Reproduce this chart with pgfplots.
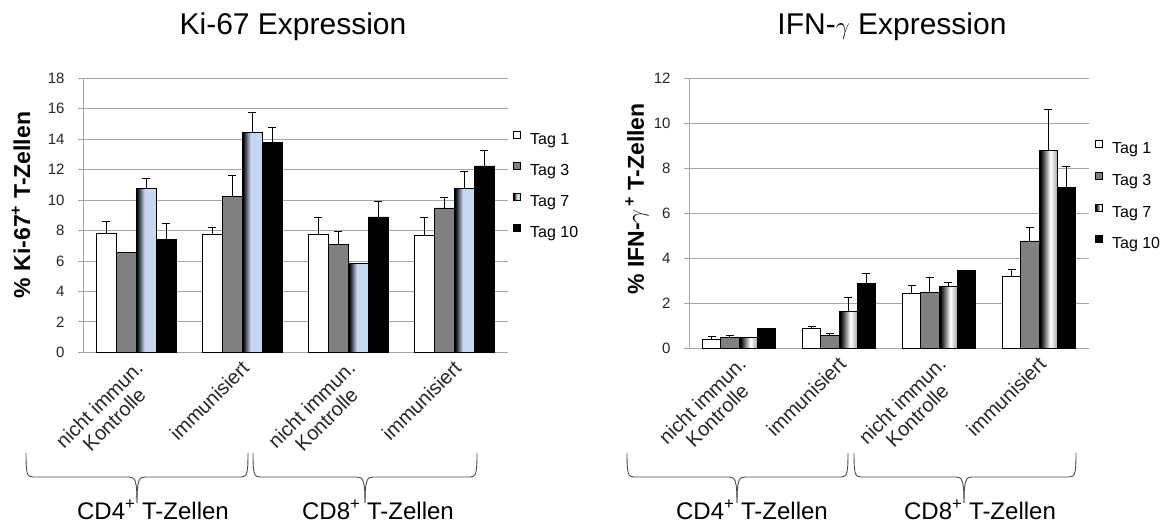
\documentclass[border=0pt]{standalone}
\usepackage{fontspec}
\setmainfont{Liberation Sans}
\usepackage{pgfplots}
\pgfplotsset{compat=1.18}

\definecolor{barg}{HTML}{808080}
\definecolor{gridg}{HTML}{A6A6A6}
\definecolor{bluel}{HTML}{C8D7F0}

% Tag 7 fills: black on the left, light on the right
\pgfdeclarehorizontalshading{tagsiebenA}{100bp}{color(0bp)=(black); color(27bp)=(black); color(46bp)=(bluel); color(75bp)=(bluel); color(100bp)=(bluel)}
\pgfdeclarehorizontalshading{tagsiebenB}{100bp}{color(0bp)=(black); color(29bp)=(black); color(56bp)=(white); color(75bp)=(black!35); color(100bp)=(black!35)}

\pgfplotsset{
  expbar/.style={
    scale only axis, anchor=south west, clip=false,
    xmin=-0.5, xmax=3.5, ymin=0,
    ybar=0pt,
    axis lines*=left,
    axis line style={gridg, line width=0.8pt},
    ymajorgrids, grid style={gridg, line width=0.8pt},
    xtick={0,1,2,3},
    xticklabels={{nicht immun.\\Kontrolle},immunisiert,{nicht immun.\\Kontrolle},immunisiert},
    xtick style={draw=none},
    ytick style={gridg, line width=0.8pt},
    tick align=outside, major tick length=5pt,
    yticklabel style={font=\fontsize{15}{18}\selectfont, black!85, xshift=-10pt,
      /pgf/number format/assume math mode=true},
    xticklabel style={font=\fontsize{20}{21}\selectfont, black!85, xshift=-2pt, yshift=3pt,
      rotate=45, anchor=north east, align=center},
    legend style={draw=none, fill=none, font=\fontsize{16}{19}\selectfont, anchor=north west,
      inner sep=0pt, row sep=11pt, column sep=7pt,
      nodes={inner sep=2pt, text height=12pt, text depth=4pt}},
    legend cell align=left,
  },
  sqleg/.style={legend image code/.code={\draw[##1] (0pt,2pt) rectangle (7pt,9pt);}},
  errb/.style={/pgfplots/error bars/y dir=plus, /pgfplots/error bars/y explicit,
    /pgfplots/error bars/error bar style={black, line width=0.9pt},
    /pgfplots/error bars/error mark options={black, rotate=90, mark size=4pt, line width=0.9pt}},
  barl/.style={draw=black, line width=0.9pt, sqleg, errb},
}

% Ki-67: x, value, upper error
\pgfplotstableread{
x y e
0 7.84 0.76
1 7.75 0.44
2 7.75 1.14
3 7.66 1.23
}\kiA
\pgfplotstableread{
x y e
0 6.55 0
1 10.25 1.38
2 7.07 0.86
3 9.48 0.70
}\kiB
\pgfplotstableread{
x y e
0 7.40 1.05
1 13.80 1.00
2 8.89 1.01
3 12.24 1.05
}\kiD

% IFN-gamma
\pgfplotstableread{
x y e
0 0.40 0.13
1 0.87 0.12
2 2.44 0.35
3 3.20 0.30
}\ifA
\pgfplotstableread{
x y e
0 0.50 0.05
1 0.58 0.06
2 2.50 0.64
3 4.77 0.59
}\ifB
\pgfplotstableread{
x y e
0 0.87 0
1 2.87 0.46
2 3.45 0
3 7.14 0.96
}\ifD

\begin{document}
\begin{tikzpicture}
\useasboundingbox (0pt,0pt) rectangle (1165pt,-526pt);

% ---- left: Ki-67
\begin{axis}[expbar, at={(83pt,-352.3pt)}, width=424.5pt, height=274pt,
  ymax=18, ytick={0,2,...,18}, bar width=20pt,
  legend style={at={(rel axis cs:1.013,0.809)}}]
\addplot[barl, fill=white, bar shift=-30pt] table[x=x, y=y, y error=e] {\kiA};
\addplot[barl, fill=barg, bar shift=-10pt] table[x=x, y=y, y error=e] {\kiB};
% Tag 7: one plot per bar so that each bar gets its own gradient
\addplot[barl, shade, shading=tagsiebenA, bar shift=10pt] coordinates {(0,10.77) +- (0,0.62)};
\addplot[barl, shade, shading=tagsiebenA, bar shift=10pt, forget plot] coordinates {(1,14.43) +- (0,1.34)};
\addplot[barl, shade, shading=tagsiebenA, bar shift=10pt, forget plot] coordinates {(2,5.85) +- (0,0)};
\addplot[barl, shade, shading=tagsiebenA, bar shift=10pt, forget plot] coordinates {(3,10.77) +- (0,1.14)};
\addplot[barl, fill=black, bar shift=30pt] table[x=x, y=y, y error=e] {\kiD};
\legend{Tag 1, Tag 3, Tag 7, Tag 10}
\end{axis}

% ---- right: IFN-gamma
\begin{axis}[expbar, at={(689pt,-348.3pt)}, width=400pt, height=270pt,
  ymax=12, ytick={0,2,...,12}, bar width=18.3pt,
  legend style={at={(rel axis cs:1.015,0.773)}, row sep=11.7pt}]
\addplot[barl, fill=white, bar shift=-27.45pt] table[x=x, y=y, y error=e] {\ifA};
\addplot[barl, fill=barg, bar shift=-9.15pt] table[x=x, y=y, y error=e] {\ifB};
\addplot[barl, shade, shading=tagsiebenB, bar shift=9.15pt] coordinates {(0,0.47) +- (0,0)};
\addplot[barl, shade, shading=tagsiebenB, bar shift=9.15pt, forget plot] coordinates {(1,1.64) +- (0,0.64)};
\addplot[barl, shade, shading=tagsiebenB, bar shift=9.15pt, forget plot] coordinates {(2,2.74) +- (0,0.18)};
\addplot[barl, shade, shading=tagsiebenB, bar shift=9.15pt, forget plot] coordinates {(3,8.81) +- (0,1.80)};
\addplot[barl, fill=black, bar shift=27.45pt] table[x=x, y=y, y error=e] {\ifD};
\legend{Tag 1, Tag 3, Tag 7, Tag 10}
\end{axis}

% titles and axis labels
\node[anchor=base, font=\fontsize{30}{36}\selectfont] at (293pt,-35pt) {Ki-67 Expression};
\node[anchor=base, font=\fontsize{30}{36}\selectfont] at (892pt,-35pt) {IFN-$\gamma$ Expression};
\node[rotate=90, font=\bfseries\fontsize{23}{27}\selectfont] at (21pt,-205pt) {\% Ki-67\textsuperscript{+} T-Zellen};
\node[rotate=90, font=\bfseries\fontsize{23}{27}\selectfont] at (637pt,-199pt) {\% IFN-$\gamma$\textsuperscript{\,+} T-Zellen};

% group braces
\foreach \xa/\xb/\tip in {26/248/137, 253/477/365, 627/848/737, 854/1076/964}{
  \draw[black!70, line width=0.9pt]
    (\xa pt,-453pt) .. controls (\xa pt,-474pt) and (\xa pt+1pt,-477pt) .. (\xa pt+7pt,-477pt)
    -- (\tip pt-8pt,-477pt) .. controls (\tip pt-2pt,-477pt) and (\tip pt,-480pt) .. (\tip pt,-503pt);
  \draw[black!70, line width=0.9pt]
    (\xb pt,-453pt) .. controls (\xb pt,-474pt) and (\xb pt-1pt,-477pt) .. (\xb pt-7pt,-477pt)
    -- (\tip pt+8pt,-477pt) .. controls (\tip pt+2pt,-477pt) and (\tip pt,-480pt) .. (\tip pt,-503pt);
}
\foreach \cx/\txt in {153/CD4, 378/CD8, 752/CD4, 980/CD8}{
  \node[anchor=base, font=\fontsize{24}{28}\selectfont] at (\cx pt,-519pt) {\txt\textsuperscript{+} T-Zellen};
}
\end{tikzpicture}
\end{document}
